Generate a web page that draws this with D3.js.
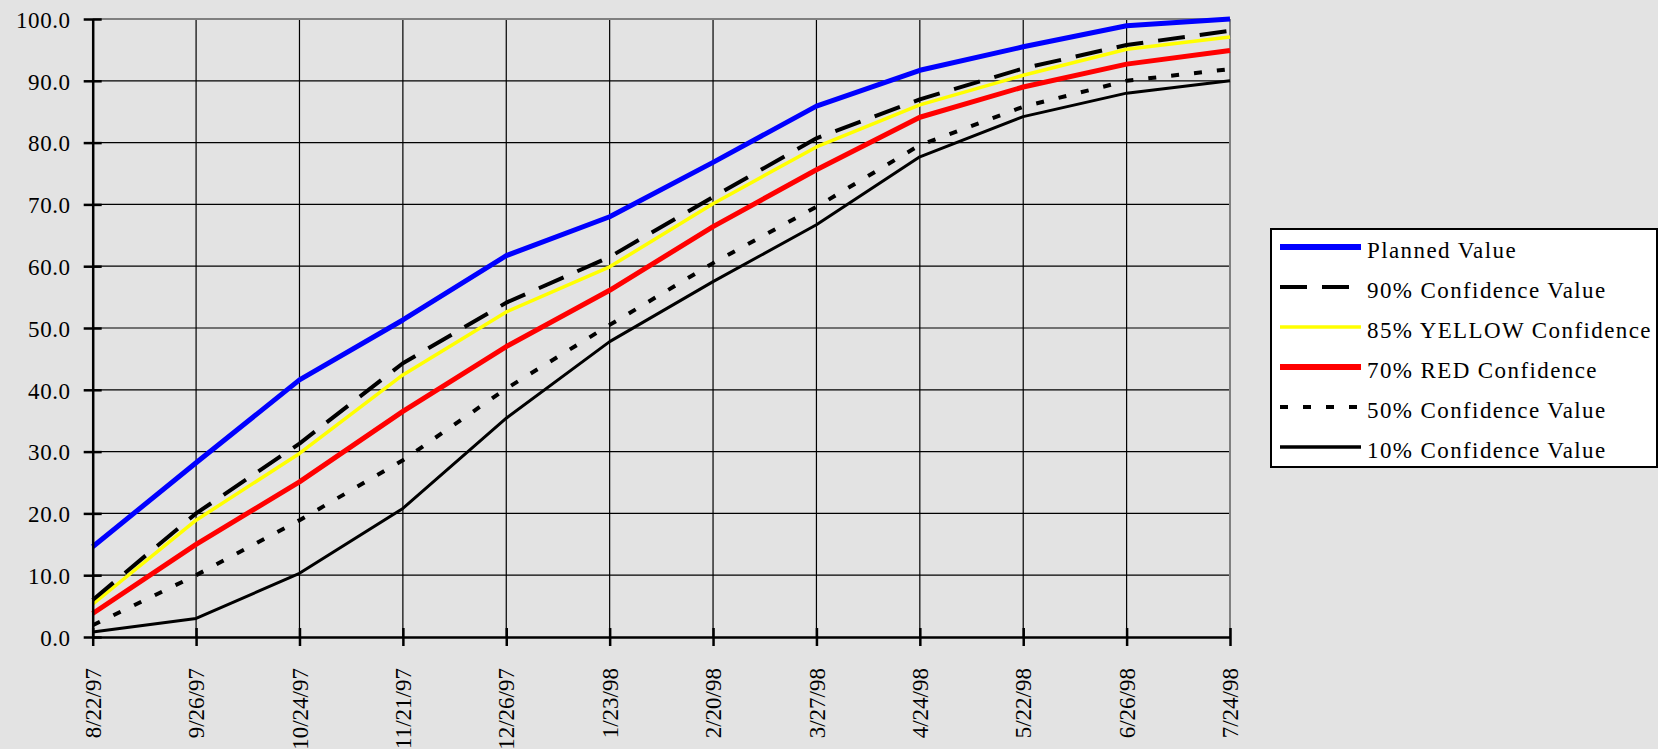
<!DOCTYPE html>
<html><head><meta charset="utf-8">
<script src="https://cdn.jsdelivr.net/npm/d3@7"></script>
<style>
html,body{margin:0;padding:0;background:#e3e3e3;}
svg{display:block;}
text{font-family:"Liberation Serif","Times New Roman",serif;fill:#000;}
</style></head>
<body>
<svg id="chart" width="1658" height="749"></svg>
<script>
const dates = ["8/22/97","9/26/97","10/24/97","11/21/97","12/26/97","1/23/98","2/20/98","3/27/98","4/24/98","5/22/98","6/26/98","7/24/98"];
const yTicks = [0,10,20,30,40,50,60,70,80,90,100];
const seriesNames = ["Planned Value","90% Confidence Value","85% YELLOW Confidence","70% RED Confidence","50% Confidence Value","10% Confidence Value"];
const planned = [14.6,28.2,41.6,51.3,61.7,68.0,76.8,85.9,91.7,95.5,98.9,100.0];
const conf90  = [6.0,20.0,31.3,44.3,54.1,61.5,71.2,80.7,87.0,92.0,95.8,98.1];
const conf85  = [5.3,18.9,29.7,42.4,52.6,59.9,70.1,79.3,86.1,90.9,95.1,97.1];
const conf70  = [3.8,15.0,25.1,36.5,47.0,56.1,66.4,75.6,84.1,89.0,92.7,94.9];
const conf50  = [1.9,10.0,18.9,28.6,40.2,50.5,60.5,69.6,79.6,85.8,90.0,91.9];
const conf10  = [0.8,3.0,10.3,20.8,35.4,47.8,57.5,66.7,77.7,84.2,88.0,90.0];

const styles = [
  {color:"#0000ff", width:5, dash:null, lw:6},
  {color:"#000000", width:4, dash:"27,15", lw:4},
  {color:"#ffff00", width:3.5, dash:null, lw:3.5},
  {color:"#ff0000", width:5, dash:null, lw:6},
  {color:"#000000", width:4, dash:"8,15", lw:4},
  {color:"#000000", width:3, dash:null, lw:3.5}
];
const allSeries = [planned,conf90,conf85,conf70,conf50,conf10];
const drawOrder = [5,4,3,2,1,0];

const svg = d3.select("#chart");
const L = 92.7, R = 1230, T = 19, B = 637;
const x = d3.scalePoint().domain(dates).range([L,R]);
const y = d3.scaleLinear().domain([0,100]).range([B,T]);

const g = svg.append("g");
g.selectAll("line.h").data(yTicks.filter(d=>d>0 && d<100)).enter().append("line")
  .attr("x1",L).attr("x2",R).attr("y1",d=>y(d)).attr("y2",d=>y(d))
  .attr("stroke","#000").attr("stroke-width",1.2);
g.selectAll("line.v").data(dates.slice(1,-1)).enter().append("line")
  .attr("x1",d=>x(d)).attr("x2",d=>x(d)).attr("y1",T).attr("y2",B)
  .attr("stroke","#000").attr("stroke-width",1.2);
svg.append("line").attr("x1",L).attr("x2",R).attr("y1",T).attr("y2",T).attr("stroke","#808080").attr("stroke-width",2);
svg.append("line").attr("x1",R).attr("x2",R).attr("y1",T).attr("y2",B).attr("stroke","#808080").attr("stroke-width",2);

const line = d3.line().x((d,i)=>x(dates[i])).y(d=>y(d));
drawOrder.forEach(k=>{
  const s = styles[k];
  svg.append("path").datum(allSeries[k])
    .attr("d",line).attr("fill","none")
    .attr("stroke",s.color).attr("stroke-width",s.width)
    .attr("stroke-dasharray",s.dash)
    .attr("stroke-linejoin","round");
});

const yAxis = d3.axisLeft(y).tickValues(yTicks).tickFormat(d3.format(".1f")).tickSizeInner(9).tickSizeOuter(0);
const ya = svg.append("g").attr("transform",`translate(${L},0)`).call(yAxis);
ya.attr("font-family",null).attr("font-size",null);
ya.select(".domain").attr("stroke","#000").attr("stroke-width",2.5);
ya.selectAll(".tick line").attr("stroke","#000").attr("stroke-width",2.5).attr("x2",-9).attr("x1",9);
ya.selectAll(".tick text").attr("x",-22).attr("dy","0.36em")
  .style("font-family","Liberation Serif").style("font-size","23px").style("letter-spacing","0.6px").attr("fill","#000");

const xAxis = d3.axisBottom(x).tickSizeInner(9).tickSizeOuter(0);
const xa = svg.append("g").attr("transform",`translate(0,${B})`).call(xAxis);
xa.attr("font-family",null).attr("font-size",null);
xa.select(".domain").attr("stroke","#000").attr("stroke-width",2.5);
xa.selectAll(".tick line").attr("stroke","#000").attr("stroke-width",2.5).attr("y1",-9).attr("y2",9);
xa.selectAll(".tick text")
  .attr("transform","rotate(-90)")
  .attr("x",-31).attr("y",0).attr("dy","0.33em")
  .attr("text-anchor","end")
  .style("font-family","Liberation Serif").style("font-size","23px").attr("fill","#000");

const lg = svg.append("g");
lg.append("rect").attr("x",1271).attr("y",229).attr("width",386).attr("height",238)
  .attr("fill","#ffffff").attr("stroke","#000").attr("stroke-width",2);
seriesNames.forEach((name,i)=>{
  const s = styles[i];
  const yy = 247 + i*40;
  lg.append("line").attr("x1",1280).attr("x2",1361).attr("y1",yy).attr("y2",yy)
    .attr("stroke",s.color).attr("stroke-width",s.lw).attr("stroke-dasharray",s.dash);
  lg.append("text").attr("x",1367).attr("y",yy+11).text(name)
    .style("font-family","Liberation Serif").style("font-size","23px").style("letter-spacing","1.4px");
});
</script>
</body></html>
